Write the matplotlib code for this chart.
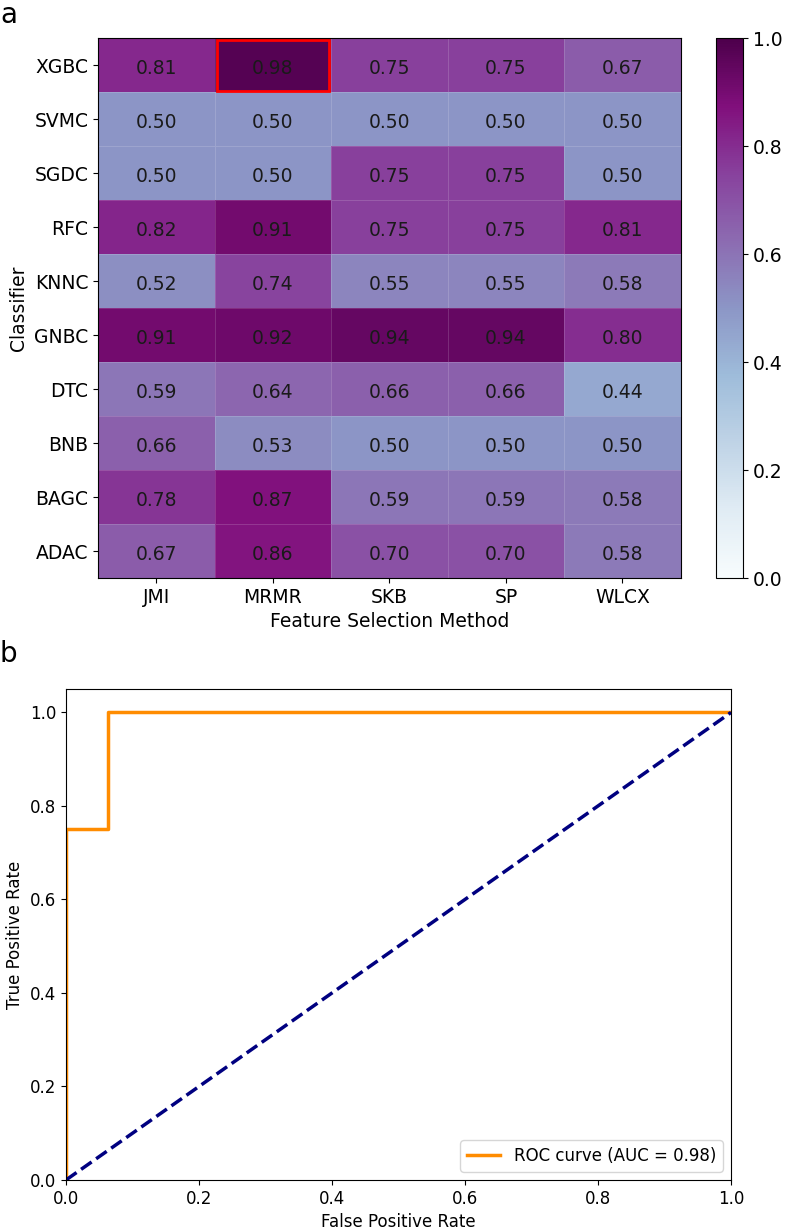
import numpy as np
import matplotlib
matplotlib.use("Agg")
import matplotlib.pyplot as plt
from matplotlib.patches import Rectangle

# Datos del mapa de calor (AUC por clasificador y método de selección)
clasificadores = ["XGBC", "SVMC", "SGDC", "RFC", "KNNC", "GNBC", "DTC", "BNB", "BAGC", "ADAC"]
metodos = ["JMI", "MRMR", "SKB", "SP", "WLCX"]
auc = np.array([
    [0.81, 0.98, 0.75, 0.75, 0.67],
    [0.50, 0.50, 0.50, 0.50, 0.50],
    [0.50, 0.50, 0.75, 0.75, 0.50],
    [0.82, 0.91, 0.75, 0.75, 0.81],
    [0.52, 0.74, 0.55, 0.55, 0.58],
    [0.91, 0.92, 0.94, 0.94, 0.80],
    [0.59, 0.64, 0.66, 0.66, 0.44],
    [0.66, 0.53, 0.50, 0.50, 0.50],
    [0.78, 0.87, 0.59, 0.59, 0.58],
    [0.67, 0.86, 0.70, 0.70, 0.58],
])
mejor_fila, mejor_col = 0, 1

# Datos de la curva ROC
fpr = [0.0, 0.0, 0.0625, 0.0625, 1.0]
tpr = [0.0, 0.75, 0.75, 1.0, 1.0]
auc_roc = 0.98

fig = plt.figure(figsize=(7.87, 12.3), dpi=100)

# Panel a: mapa de calor
ax1 = fig.add_axes([0.1245, 0.530, 0.7405, 0.439])
cax = fig.add_axes([0.9095, 0.530, 0.035, 0.439])
malla = ax1.pcolormesh(auc, cmap="BuPu", vmin=0, vmax=1,
                       edgecolors=(1, 1, 1, 0.15), linewidth=0.5)
ax1.set_xlim(0, len(metodos))
ax1.set_ylim(len(clasificadores), 0)
for i in range(len(clasificadores)):
    for j in range(len(metodos)):
        ax1.text(j + 0.5, i + 0.57, f"{auc[i, j]:.2f}", ha="center", va="center",
                 fontsize=13.5, color="#1a1a1a")
ax1.add_patch(Rectangle((mejor_col + 0.02, mejor_fila + 0.03), 0.96, 0.94,
                        fill=False, edgecolor="red", linewidth=2))
ax1.set_xticks(np.arange(len(metodos)) + 0.5)
ax1.set_xticklabels(metodos, fontsize=13.5)
ax1.set_yticks(np.arange(len(clasificadores)) + 0.5)
ax1.set_yticklabels(clasificadores, fontsize=13.5)
ax1.set_xlabel("Feature Selection Method", fontsize=13.5)
ax1.set_ylabel("Classifier", fontsize=13.5)
cb = fig.colorbar(malla, cax=cax, ticks=[0, 0.2, 0.4, 0.6, 0.8, 1.0])
cb.ax.tick_params(labelsize=13.5)
cb.outline.set_linewidth(0.8)
cb.ax.set_yticklabels(["0.0", "0.2", "0.4", "0.6", "0.8", "1.0"])

# Panel b: curva ROC
ax2 = fig.add_axes([0.0839, 0.0407, 0.845, 0.3991])
ax2.plot(fpr, tpr, color="darkorange", lw=2.5, label=f"ROC curve (AUC = {auc_roc:.2f})")
ax2.plot([0, 1], [0, 1], color="navy", lw=2.5, linestyle="--")
ax2.set_xlim(0.0, 1.0)
ax2.set_ylim(0.0, 1.05)
ax2.set_xlabel("False Positive Rate", fontsize=12)
ax2.set_ylabel("True Positive Rate", fontsize=12)
ax2.tick_params(labelsize=12)
ax2.legend(loc="lower right", fontsize=12)

fig.text(0.0, 0.988, "a", fontsize=20, va="center", ha="left")
fig.text(0.0, 0.468, "b", fontsize=20, va="center", ha="left")

fig.savefig("out.png", dpi=100)
